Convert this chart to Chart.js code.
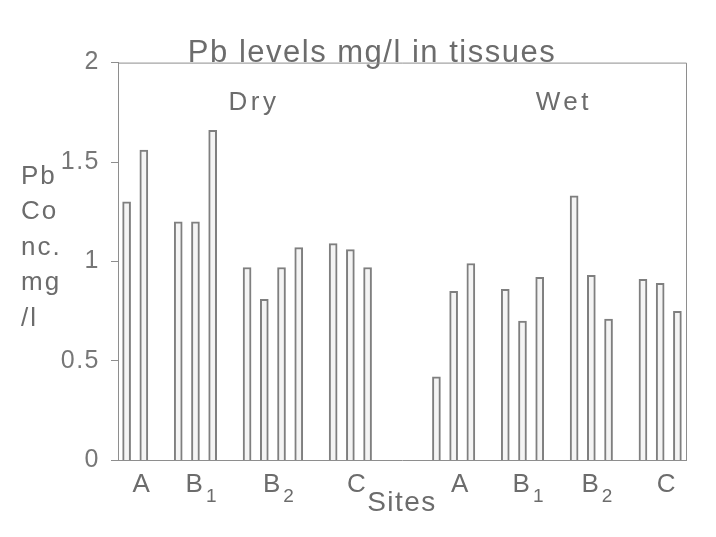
<!DOCTYPE html>
<html>
<head>
<meta charset="utf-8">
<script src="https://cdn.jsdelivr.net/npm/chart.js@4/dist/chart.umd.min.js"></script>
<style>
  html, body { margin: 0; padding: 0; background: #ffffff; }
  canvas { display: block; }
</style>
</head>
<body>
<canvas id="chart" width="716" height="537"></canvas>
<script>
// Pb concentration (mg/l) in tissues, per site, dry and wet season
const seasons = ['Dry', 'Wet'];
const siteLetters = ['A', 'B', 'B', 'C'];
const siteSubscripts = ['', '1', '2', ''];

const dryA  = [1.30, 1.56];
const dryB1 = [1.20, 1.20, 1.66];
const dryB2 = [0.97, 0.81, 0.97, 1.07];
const dryC  = [1.09, 1.06, 0.97];

const wetA  = [0.42, 0.85, 0.99];
const wetB1 = [0.86, 0.70, 0.92];
const wetB2 = [1.33, 0.93, 0.71];
const wetC  = [0.91, 0.89, 0.75];

const yTicks = [0, 0.5, 1, 1.5, 2];
const yTitleLines = ['Pb', 'Co', 'nc.', 'mg', '/l'];
const chartTitle = 'Pb levels mg/l in tissues';
const xTitle = 'Sites';

const seasonGroups = [
  [dryA, dryB1, dryB2, dryC],
  [wetA, wetB1, wetB2, wetC]
];

// Lay the bars out on a category axis: one empty slot between sites,
// three between the two seasons.
const GROUP_GAP = 1;
const SEASON_GAP = 3;
const labels = [];
const values = [];
const groupSpans = [];
const seasonSpans = [];

function pushGap(n) {
  for (let k = 0; k < n; k++) { labels.push(''); values.push(null); }
}

seasonGroups.forEach((groups, s) => {
  if (s > 0) pushGap(SEASON_GAP);
  const seasonStart = labels.length;
  groups.forEach((vals, g) => {
    if (g > 0) pushGap(GROUP_GAP);
    const start = labels.length;
    vals.forEach((v, i) => {
      labels.push(seasons[s] + ' ' + siteLetters[g] + siteSubscripts[g] + ' #' + (i + 1));
      values.push(v);
    });
    groupSpans.push({ season: s, site: g, start: start, end: labels.length - 1 });
  });
  seasonSpans.push({ start: seasonStart, end: labels.length - 1 });
});

const FONT = "'Liberation Sans', Arial, Helvetica, sans-serif";
const TEXT = '#6c6c6c';
const AXIS = '#8e8e8e';
const LEFT_PAD = 58;

// Frame, season names, site labels with subscripts and the stacked y title
const annotate = {
  id: 'annotate',
  beforeDraw(chart) {
    chart.ctx.letterSpacing = '1.5px';
  },
  beforeDatasetsDraw(chart) {
    const { ctx, chartArea } = chart;
    ctx.save();
    ctx.strokeStyle = AXIS;
    ctx.lineWidth = 1;
    ctx.beginPath();
    ctx.moveTo(chartArea.left, chartArea.top + 0.5);
    ctx.lineTo(chartArea.right + 0.5, chartArea.top + 0.5);
    ctx.lineTo(chartArea.right + 0.5, chartArea.bottom);
    ctx.stroke();
    ctx.restore();
  },
  afterDraw(chart) {
    const { ctx, chartArea, scales } = chart;
    const x = scales.x, y = scales.y;
    ctx.save();
    ctx.fillStyle = TEXT;
    ctx.textBaseline = 'alphabetic';

    // season names
    ctx.font = '26px ' + FONT;
    ctx.letterSpacing = '3.5px';
    ctx.textAlign = 'center';
    seasonSpans.forEach((sp, s) => {
      ctx.fillText(seasons[s], x.getPixelForValue((sp.start + sp.end) / 2 + 0.4), y.getPixelForValue(1.76));
    });

    // site labels under each group
    ctx.textAlign = 'left';
    groupSpans.forEach(gs => {
      const cx = x.getPixelForValue((gs.start + gs.end) / 2 + 0.38);
      const letter = siteLetters[gs.site];
      const sub = siteSubscripts[gs.site];
      ctx.letterSpacing = '1px';
      ctx.font = '26px ' + FONT;
      const lw = ctx.measureText(letter).width;
      ctx.font = '19px ' + FONT;
      const sw = sub ? ctx.measureText(sub).width + 3 : 0;
      const left = cx - (lw + sw) / 2;
      ctx.font = '26px ' + FONT;
      ctx.fillText(letter, left, chartArea.bottom + 32);
      if (sub) {
        ctx.font = '19px ' + FONT;
        ctx.fillText(sub, left + lw + 2, chartArea.bottom + 42);
      }
    });

    // stacked y-axis title
    ctx.font = '26px ' + FONT;
    ctx.letterSpacing = '2px';
    const mid = (chartArea.top + chartArea.bottom) / 2 - 7;
    const step = 35.5;
    yTitleLines.forEach((line, i) => {
      ctx.fillText(line, 21, mid + (i - (yTitleLines.length - 1) / 2) * step);
    });

    ctx.restore();
    ctx.letterSpacing = '0px';
  }
};

new Chart(document.getElementById('chart'), {
  type: 'bar',
  data: {
    labels: labels,
    datasets: [{
      data: values,
      backgroundColor: '#f4f4f4',
      borderColor: '#7f7f7f',
      borderWidth: 2,
      barThickness: 8
    }]
  },
  options: {
    responsive: false,
    animation: false,
    events: [],
    layout: { padding: { left: LEFT_PAD, right: 30, top: 44, bottom: 17 } },
    plugins: {
      legend: { display: false },
      tooltip: { enabled: false },
      title: {
        display: true,
        text: chartTitle,
        color: TEXT,
        font: { family: FONT, size: 31, weight: 'normal', lineHeight: 0.6 },
        padding: 0
      }
    },
    scales: {
      x: {
        grid: { display: false, drawTicks: false },
        border: { display: true, color: AXIS, width: 1 },
        ticks: { display: false },
        title: {
          display: true,
          text: xTitle,
          color: TEXT,
          font: { family: FONT, size: 28, lineHeight: 1.2 },
          padding: { top: 26, bottom: 0 }
        }
      },
      y: {
        min: 0,
        max: 2,
        afterBuildTicks(scale) {
          scale.ticks = yTicks.map(v => ({ value: v }));
        },
        afterFit(scale) {
          scale.width = 118 - LEFT_PAD;
        },
        grid: { drawOnChartArea: false, drawTicks: true, tickLength: 7, color: AXIS },
        border: { display: true, color: AXIS, width: 1 },
        ticks: {
          color: '#777777',
          padding: 11,
          font: { family: FONT, size: 25 },
          callback: v => String(v)
        }
      }
    }
  },
  plugins: [annotate]
});
</script>
</body>
</html>
